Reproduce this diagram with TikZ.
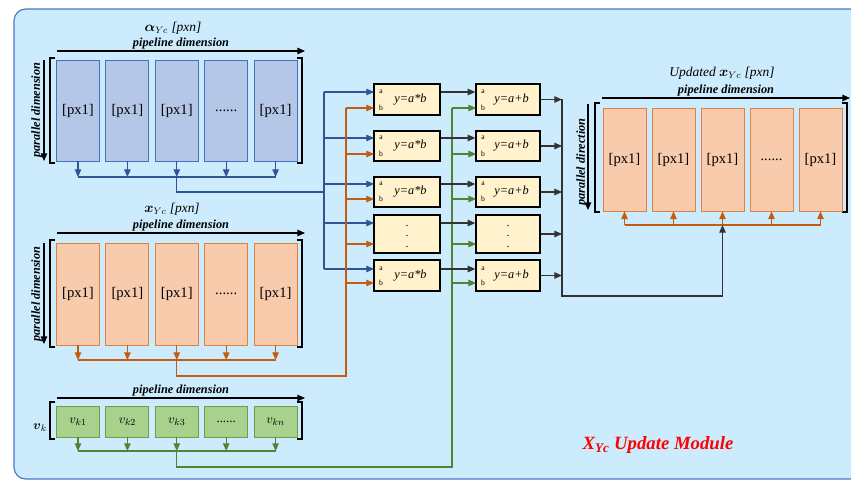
\documentclass[tikz,border=0pt]{standalone}
\usepackage{amsmath,amssymb}
\usepackage{fontspec}
\setmainfont{Liberation Serif}
\usepackage{xcolor}
\usetikzlibrary{arrows.meta,calc}
\definecolor{bgblue}{HTML}{CCEBFD}
\definecolor{frameblue}{HTML}{4A78C8}
\definecolor{alfill}{HTML}{B4C7E7}
\definecolor{aldraw}{HTML}{4472C4}
\definecolor{alline}{HTML}{2F5597}
\definecolor{xsfill}{HTML}{F8CBAD}
\definecolor{xsdraw}{HTML}{E0803E}
\definecolor{xsline}{HTML}{C55A11}
\definecolor{vkfill}{HTML}{A9D18E}
\definecolor{vkdraw}{HTML}{6A9E48}
\definecolor{vkline}{HTML}{548235}
\definecolor{opfill}{HTML}{FFF2CC}

\begin{document}
\begin{tikzpicture}[x=0.03cm,y=-0.03cm,
  tip/.style={-{Triangle[length=6.5pt,width=5.5pt]}},
  col/.style={draw=#1, line width=0.8pt, minimum width=1.29cm, inner sep=0pt,
    font=\fontsize{12.5}{12.5}\selectfont},
  opbox/.style={draw=black, line width=1.1pt, fill=opfill, inner sep=0pt},
  dimtxt/.style={font=\bfseries\itshape\fontsize{10.5}{11}\selectfont, inner sep=1pt},
  ttl/.style={font=\itshape\fontsize{11.5}{11.5}\selectfont},
  brk/.style={line width=1.2pt},
  bus/.style={line width=0.9pt},
  optxt/.style={font=\itshape\fontsize{10.5}{10.5}\selectfont},
  io/.style={font=\fontsize{6.5}{6.5}\selectfont, inner sep=0pt}]
  \useasboundingbox (0,0) rectangle (851,480);
  \clip (0,0) rectangle (851,480);
  % module frame
  \filldraw[fill=bgblue, draw=frameblue, line width=1pt, rounded corners=10pt] (14,9) rectangle (900,479);

  % alpha block
  \node[ttl] (altitle) at (173,28) {$\boldsymbol{\alpha}_{Yc}$ [pxn]};
  \draw[line width=1.1pt, tip] (57,51) -- (305,51) node[midway,above,dimtxt] {pipeline dimension};
  \draw[brk] (55,58) -- (50,58) -- (50,163) -- (55,163);
  \draw[brk] (297,58) -- (302,58) -- (302,163) -- (297,163);
  \draw[line width=1.1pt, tip] (44,60) -- (44,161);
  \node[dimtxt, rotate=90] at (37,110) {parallel dimension};
  \foreach \i/\t in {1/{[px1]},2/{[px1]},3/{[px1]},4/{......},5/{[px1]}}
    \node[col=aldraw, fill=alfill, minimum height=3.03cm] (al\i) at ({78+49.4*(\i-1)},110.5) {\t};

  % x block
  \node[ttl] (xstitle) at (172,209) {$\boldsymbol{x}_{Yc}$ [pxn]};
  \draw[line width=1.1pt, tip] (57,233) -- (305,233) node[midway,above,dimtxt] {pipeline dimension};
  \draw[brk] (55,240) -- (50,240) -- (50,347) -- (55,347);
  \draw[brk] (297,240) -- (302,240) -- (302,347) -- (297,347);
  \draw[line width=1.1pt, tip] (44,243) -- (44,344);
  \node[dimtxt, rotate=90] at (37,294) {parallel dimension};
  \foreach \i/\t in {1/{[px1]},2/{[px1]},3/{[px1]},4/{......},5/{[px1]}}
    \node[col=xsdraw, fill=xsfill, minimum height=3.06cm] (xs\i) at ({78+49.4*(\i-1)},294) {\t};

  % v block
  \draw[line width=1.1pt, tip] (57,398) -- (305,398) node[midway,above,dimtxt] {pipeline dimension};
  \draw[brk] (55,402) -- (50,402) -- (50,439) -- (55,439);
  \draw[brk] (297,402) -- (302,402) -- (302,439) -- (297,439);
  \node[font=\fontsize{11}{11}\selectfont] (vktitle) at (40,428) {$\boldsymbol{v}_k$};
  \foreach \i/\t in {1/{$v_{k1}$},2/{$v_{k2}$},3/{$v_{k3}$},4/{......},5/{$v_{kn}$}}
    \node[col=vkdraw, fill=vkfill, minimum height=0.93cm, font=\fontsize{11}{11}\selectfont] (vk\i) at ({78+49.4*(\i-1)},421.5) {\t};

  % multiply and add stages
  \foreach \i/\yc/\h in {1/99.5/0.93,2/146/0.9,3/192/0.9,4/234/1.14,5/275.5/0.93} {
    \node[opbox, minimum width=1.98cm, minimum height=\h cm] (mul\i) at (407,\yc) {};
    \node[opbox, minimum width=1.92cm, minimum height=\h cm] (sum\i) at (508,\yc) {};
  }
  \foreach \i/\ya/\yb in {1/92/108,2/138/154,3/184/199,4/223/244,5/269/283} {
    \coordinate (ina\i) at (374,\ya);
    \coordinate (inb\i) at (374,\yb);
    \coordinate (inc\i) at (476,\yb);
  }
  \foreach \i in {1,2,3,5} {
    \node[io] at (381,0 |- ina\i) {a};
    \node[io] at (381,0 |- inb\i) {b};
    \node[io] at (483,0 |- ina\i) {a};
    \node[io] at (483,0 |- inb\i) {b};
    \node[optxt] at ([xshift=3pt]mul\i.center) {y=a*b};
    \node[optxt] at ([xshift=3pt]sum\i.center) {y=a+b};
  }
  \node[font=\fontsize{10}{9}\selectfont, align=center] at ([yshift=-2pt]mul4.center) {.\\.\\.};
  \node[font=\fontsize{10}{9}\selectfont, align=center] at ([yshift=-2pt]sum4.center) {.\\.\\.};

  % bus coordinates
  \coordinate (albus) at (0,177);
  \coordinate (xsbus) at (0,360);
  \coordinate (vkbus) at (0,451);
  \coordinate (abus) at (324,192);
  \coordinate (obus) at (346,376);
  \coordinate (gbus) at (452,467);
  \coordinate (outbus) at (562,296);
  \coordinate (upbus) at (0,225);

  % alpha to multipliers
  \begin{scope}[alline, bus]
    \foreach \i in {1,...,5}
      \draw[tip] (al\i.south) -- (al\i.south |- albus);
    \draw (al1.south |- albus) -- (al5.south |- albus);
    \draw (al3.south |- albus) |- (abus);
    \draw (abus |- ina1) -- (abus |- ina5);
    \foreach \i in {1,...,5}
      \draw[tip] (abus |- ina\i) -- (ina\i);
  \end{scope}

  % x to multipliers
  \begin{scope}[xsline, bus]
    \foreach \i in {1,...,5}
      \draw[tip] (xs\i.south) -- (xs\i.south |- xsbus);
    \draw (xs1.south |- xsbus) -- (xs5.south |- xsbus);
    \draw (xs3.south |- xsbus) |- (obus) -- (obus |- inb1);
    \foreach \i in {1,...,5}
      \draw[tip] (obus |- inb\i) -- (inb\i);
  \end{scope}

  % v to adders
  \begin{scope}[vkline, bus]
    \foreach \i in {1,...,5}
      \draw[tip] (vk\i.south) -- (vk\i.south |- vkbus);
    \draw (vk1.south |- vkbus) -- (vk5.south |- vkbus);
    \draw (vk3.south |- vkbus) |- (gbus) -- (gbus |- inc1);
    \foreach \i in {1,...,5}
      \draw[tip] (gbus |- inc\i) -- (inc\i);
  \end{scope}

  % products to adders, sums out
  \begin{scope}[black!80, bus]
    \foreach \i in {1,...,5} {
      \draw[tip] (mul\i.east |- ina\i) -- (sum\i.west |- ina\i);
      \draw[tip] (sum\i.east) -- (sum\i.east -| outbus);
    }
  \end{scope}

  % updated x block
  \node[ttl] (uptitle) at (722,73) {Updated $\boldsymbol{x}_{Yc}$ [pxn]};
  \draw[line width=1.1pt, tip] (602,98) -- (850,98) node[midway,above,dimtxt] {pipeline dimension};
  \draw[brk] (600,103) -- (595,103) -- (595,212) -- (600,212);
  \draw[brk] (842,103) -- (847,103) -- (847,212) -- (842,212);
  \draw[line width=1.1pt, tip] (588,104) -- (588,210);
  \node[dimtxt, rotate=90] at (582,162) {parallel direction};
  \foreach \i/\t in {1/{[px1]},2/{[px1]},3/{[px1]},4/{......},5/{[px1]}}
    \node[col=xsdraw, fill=xsfill, minimum height=3.09cm] (up\i) at ({624.5+49*(\i-1)},159.5) {\t};
  \draw[black!80, bus, tip] (outbus |- sum1.east) -- (outbus) -| (up3.south |- upbus);
  \begin{scope}[xsline, bus]
    \draw (up1.south |- upbus) -- (up5.south |- upbus);
    \foreach \i in {1,...,5}
      \draw[tip] (up\i.south |- upbus) -- (up\i.south);
  \end{scope}

  \node[text=red, font=\bfseries\itshape\fontsize{16}{16}\selectfont] (modtitle) at (658,445) {X\textsubscript{Yc} Update Module};
\end{tikzpicture}
\end{document}
